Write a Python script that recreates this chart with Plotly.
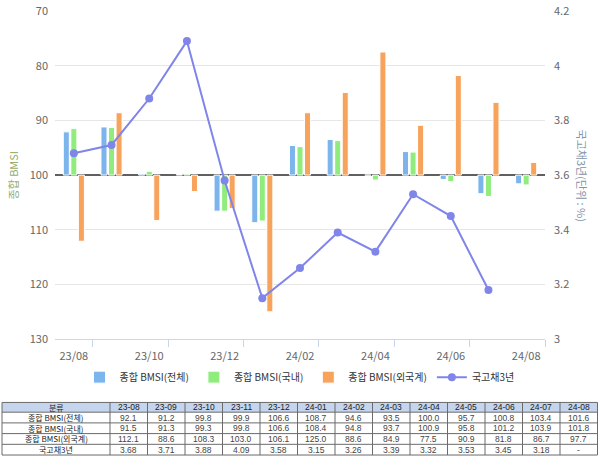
import plotly.graph_objects as go

categories = ["23-08", "23-09", "23-10", "23-11", "23-12", "24-01", "24-02",
              "24-03", "24-04", "24-05", "24-06", "24-07", "24-08"]
axis_labels = ["23/08", "23/10", "23/12", "24/02", "24/04", "24/06", "24/08"]
bmsi_total = [92.1, 91.2, 99.8, 99.9, 106.6, 108.7, 94.6, 93.5, 100.0, 95.7, 100.8, 103.4, 101.6]
bmsi_domestic = [91.5, 91.3, 99.3, 99.8, 106.6, 108.4, 94.8, 93.7, 100.9, 95.8, 101.2, 103.9, 101.8]
bmsi_foreign = [112.1, 88.6, 108.3, 103.0, 106.1, 125.0, 88.6, 84.9, 77.5, 90.9, 81.8, 86.7, 97.7]
ktb3y = [3.68, 3.71, 3.88, 4.09, 3.58, 3.15, 3.26, 3.39, 3.32, 3.53, 3.45, 3.18, None]

series_names = ["종합 BMSI(전체)", "종합 BMSI(국내)", "종합 BMSI(외국계)", "국고채3년"]
row_labels = ["종합 BMSI(전체)", "종합 BMSI(국내)", "종합 BMSI(외국계)", "국고채3년"]
table_header_label = "분류"

BASE = 100
FONT = "Noto Sans CJK KR"
TFONT = "Liberation Sans"
W, H = 600, 465
ML, MR, MT, MB = 2, 3, 6, 2
PW, PH = W - ML - MR, H - MT - MB


def px_x(x):
    return (x - ML) / PW


def px_y(y):
    return (H - MB - y) / PH


xs = list(range(len(categories)))
fig = go.Figure()
colors = ["#7cb5ec", "#90ed7d", "#f7a35c"]
for name, vals, c in zip(series_names[:3], [bmsi_total, bmsi_domestic, bmsi_foreign], colors):
    fig.add_trace(go.Bar(
        x=xs, y=[v - BASE for v in vals], base=BASE, name=name,
        marker=dict(color=c, line=dict(color="white", width=1)),
        yaxis="y", xaxis="x",
    ))

fig.add_trace(go.Scatter(
    x=xs, y=ktb3y, name=series_names[3], yaxis="y2", xaxis="x",
    mode="lines+markers", line=dict(color="#8085e9", width=2),
    marker=dict(color="#8085e9", size=8, symbol="circle"),
))

# ---- data table drawn with shapes + annotations ----
shapes = [dict(type="line", xref="x", yref="y", x0=-0.5, x1=12.5, y0=BASE, y1=BASE,
               line=dict(color="#606060", width=2), layer="between")]
annotations = []

T_LEFT, T_FIRST_W, T_COL_W = 2, 108, 37.5
T_TOP, T_HEAD_H, T_ROW_H = 408, 10, 11
n_cols = len(categories)
t_right = T_LEFT + T_FIRST_W + T_COL_W * n_cols
t_bottom = T_TOP + T_HEAD_H + T_ROW_H * len(row_labels)
col_edges = [T_LEFT, T_LEFT + T_FIRST_W] + [T_LEFT + T_FIRST_W + T_COL_W * (i + 1) for i in range(n_cols)]
row_edges = [T_TOP, T_TOP + T_HEAD_H] + [T_TOP + T_HEAD_H + T_ROW_H * (i + 1) for i in range(len(row_labels))]
line_c = "#6b6b6b"

shapes.append(dict(type="rect", xref="paper", yref="paper",
                   x0=px_x(T_LEFT), x1=px_x(t_right), y0=px_y(T_TOP), y1=px_y(T_TOP + T_HEAD_H),
                   fillcolor="#c5d5ee", line=dict(width=0), layer="above"))
for ye in row_edges:
    shapes.append(dict(type="line", xref="paper", yref="paper",
                       x0=px_x(T_LEFT), x1=px_x(t_right), y0=px_y(ye), y1=px_y(ye),
                       line=dict(color=line_c, width=1), layer="above"))
for xe in col_edges:
    shapes.append(dict(type="line", xref="paper", yref="paper",
                       x0=px_x(xe), x1=px_x(xe), y0=px_y(T_TOP), y1=px_y(t_bottom),
                       line=dict(color=line_c, width=1), layer="above"))

header_vals = [table_header_label] + categories
for j, hv in enumerate(header_vals):
    cx = (col_edges[j] + col_edges[j + 1]) / 2
    cy = (row_edges[0] + row_edges[1]) / 2
    annotations.append(dict(text=hv, x=px_x(cx), y=px_y(cy), xref="paper", yref="paper",
                            xanchor="center", yanchor="middle", showarrow=False, borderpad=0,
                            font=dict(family=FONT if j == 0 else TFONT, size=8 if j == 0 else 8.5,
                                      color="#222")))

row_data = [bmsi_total, bmsi_domestic, bmsi_foreign, ktb3y]
for r, (lab, vals) in enumerate(zip(row_labels, row_data)):
    cy = (row_edges[r + 1] + row_edges[r + 2]) / 2
    annotations.append(dict(text=lab, x=px_x((col_edges[0] + col_edges[1]) / 2), y=px_y(cy),
                            xref="paper", yref="paper", xanchor="center", yanchor="middle",
                            showarrow=False, borderpad=0,
                            font=dict(family=FONT, size=8, color="#222")))
    for j, v in enumerate(vals):
        if v is None:
            txt = "-"
        elif r == 3:
            txt = f"{v:.2f}"
        else:
            txt = f"{v:.1f}"
        cx = (col_edges[j + 1] + col_edges[j + 2]) / 2
        annotations.append(dict(text=txt, x=px_x(cx), y=px_y(cy), xref="paper", yref="paper",
                                xanchor="center", yanchor="middle", showarrow=False, borderpad=0,
                                font=dict(family=TFONT, size=8.5, color="#444")))

annotations += [
    dict(text="종합 BMSI", x=px_x(13), y=px_y(175), xref="paper", yref="paper",
         xanchor="center", yanchor="middle", textangle=-90, showarrow=False,
         font=dict(family=FONT, size=11, color="#9aab6a")),
    dict(text="국고채3년(단위 : %)", x=px_x(582), y=px_y(175), xref="paper", yref="paper",
         xanchor="center", yanchor="middle", textangle=90, showarrow=False,
         font=dict(family=FONT, size=11, color="#7f93aa")),
]

fig.update_layout(
    width=W, height=H,
    margin=dict(l=ML, r=MR, t=MT, b=MB),
    paper_bgcolor="white", plot_bgcolor="white",
    barmode="group", bargap=0.4, bargroupgap=0.2,
    font=dict(family=FONT, size=11, color="#666"),
    xaxis=dict(
        domain=[px_x(55), px_x(545)], range=[-0.5, 12.5],
        tickmode="array", tickvals=list(range(0, 13, 2)), ticktext=axis_labels,
        ticks="", showgrid=False, zeroline=False, ticklabelstandoff=7,
        showline=True, linecolor="#ccd6eb", linewidth=1,
        tickfont=dict(family=FONT, size=11, color="#666"),
        minor=dict(tickmode="array", tickvals=[i + 0.5 for i in range(0, 13, 2)],
                   ticks="outside", ticklen=7, tickcolor="#ccd6eb", tickwidth=1,
                   showgrid=False),
        anchor="y",
    ),
    yaxis=dict(
        domain=[px_y(343), px_y(6)], range=[130, 70],
        tickmode="array", tickvals=[70, 80, 90, 100, 110, 120, 130],
        showgrid=True, gridcolor="#e6e6e6", gridwidth=1, zeroline=False,
        ticks="", ticklabelstandoff=6, ticklabeloverflow="allow",
        tickfont=dict(family=FONT, size=11, color="#666"),
        anchor="x",
    ),
    yaxis2=dict(
        overlaying="y", side="right", range=[3, 4.2],
        tickmode="array", tickvals=[3, 3.2, 3.4, 3.6, 3.8, 4, 4.2],
        ticktext=["3", "3.2", "3.4", "3.6", "3.8", "4", "4.2"],
        showgrid=False, zeroline=False, ticks="", ticklabelstandoff=8,
        ticklabeloverflow="allow",
        tickfont=dict(family=FONT, size=11, color="#666"),
        anchor="x",
    ),
    legend=dict(orientation="h", x=0.5, xanchor="center", y=px_y(382), yanchor="middle",
                font=dict(family=FONT, size=10, color="#333"),
                itemwidth=30, tracegroupgap=0, bgcolor="rgba(0,0,0,0)"),
    showlegend=True,
    shapes=shapes,
    annotations=annotations,
)

fig.write_html("out.html")
